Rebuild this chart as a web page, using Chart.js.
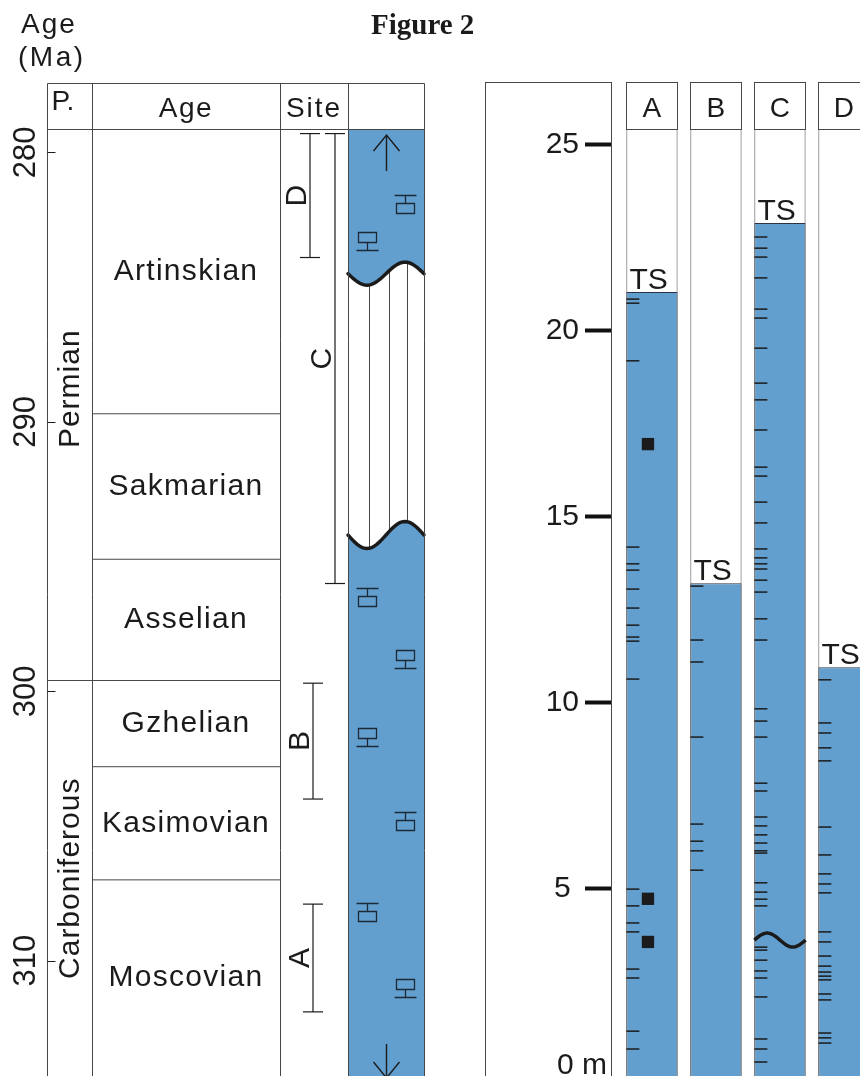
<!DOCTYPE html>
<html lang="en">
<head>
<meta charset="utf-8">
<title>Figure 2</title>
<script src="https://cdn.jsdelivr.net/npm/chart.js@4.4.1/dist/chart.umd.min.js"></script>
<style>
  html, body { margin: 0; padding: 0; background: #fff; }
  body { width: 860px; height: 1076px; overflow: hidden; position: relative; }
  canvas { position: absolute; top: 0; }
  #ageChart { left: 0; }
  #sectionChart { left: 470px; }
</style>
</head>
<body>
<canvas id="ageChart" width="490" height="1106"></canvas>
<canvas id="sectionChart" width="410" height="1106"></canvas>
<script>
// ---------- time scale (Ma) ----------
const periods = ["Permian", "Carboniferous"];
const periodBoundary = 299.6;
const stages = ["Artinskian", "Sakmarian", "Asselian", "Gzhelian", "Kasimovian", "Moscovian"];
const stageBase = [289.7, 295.1, 299.6, 302.8, 307.0]; // lower boundary of each stage
const ageTicks = [280, 290, 300, 310];
const ageTickLabels = ["280", "290", "300", "310"];
const ageRange = [279.13, 314.28];

// ---------- site ranges (Ma) ----------
const siteNames = ["A", "B", "C", "D"];
const siteTop = [307.9, 299.7, 279.3, 279.3];
const siteBase = [311.9, 304.0, 296.0, 283.9];

// ---------- lithology column ----------
const hiatusTop = 284.5;
const hiatusBase = 294.2;
const fossilAge = [281.9, 283.3, 296.5, 298.8, 301.7, 304.8, 308.2, 311.0];
const fossilSide = ["R", "L", "L", "R", "L", "R", "L", "R"];
const fossilUp = [false, true, false, true, true, false, false, true];

// ---------- measured sections (m) ----------
const sections = ["A", "B", "C", "D"];
const sectionTop = [21.04, 13.21, 22.9, 10.95]; // TS
const meterTicks = [5, 10, 15, 20, 25];
const meterTickLabels = ["5 ", "10", "15", "20", "25"];
const meterRange = [-0.046, 25.425];
const bedsA = [20.85, 20.74, 19.19, 14.18, 13.73, 13.56, 13.05, 12.54, 12.08, 11.76, 11.65, 10.63,
  4.98, 4.53, 4.07, 3.83, 2.83, 2.59, 1.16, 0.68];
const bedsB = [13.13, 11.68, 11.09, 9.07, 6.73, 6.27, 6.01, 5.49];
const bedsC = [22.52, 22.22, 21.98, 21.42, 20.58, 20.34, 19.53, 18.59, 18.14, 17.33, 16.33, 16.09,
  15.39, 14.83, 14.13, 13.89, 13.73, 13.59, 13.29, 12.97, 12.25, 11.68, 9.83, 9.50, 9.07, 7.83,
  7.62, 6.92, 6.68, 6.44, 6.22, 6.01, 5.95, 5.15, 4.90, 4.71, 4.53, 3.42, 3.34, 3.07, 2.78, 2.59,
  2.08, 0.95, 0.68, 0.33];
const bedsD = [10.61, 9.45, 9.18, 8.78, 8.43, 6.65, 5.90, 5.39, 5.12, 4.88, 3.83, 3.56, 3.18, 2.91,
  2.75, 2.64, 2.54, 2.16, 2.00, 1.11, 0.98, 0.84];
const nodulesA = [16.95, 4.72, 3.56];
const unconformityC = 3.61;

// ---------- look ----------
const FONT = '"Liberation Sans", Arial, sans-serif';
const INK = "#1b1b1b";
const RULE = "#474747";
const BLUE = "#629fcf";
Chart.defaults.font.family = FONT;

// left table, x in px from the table's left edge
const TAB = { width: 377, pCol: [0, 45], ageCol: [45, 233], siteCol: [233, 301], lithCol: [301, 377], headTop: 83 };
const SITE_X = { A: 266, B: 266, C: 288, D: 263 };
// right panel
const SEC = { boxLeft: 15, headTop: 82, axisWidth: 141, pitch: 64 };
const X_MIN = -0.64, X_MAX = X_MIN + (410 - SEC.axisWidth) / SEC.pitch;
const BED_DX = -0.4 + 6.5 / SEC.pitch;
const NODULE_DX = -4 / SEC.pitch;

function text(ctx, s, x, y, size, opt = {}) {
  ctx.save();
  ctx.font = (opt.weight ? opt.weight + " " : "") + size + "px " + (opt.family || FONT);
  ctx.fillStyle = opt.color || INK;
  ctx.textAlign = opt.align || "left";
  ctx.textBaseline = opt.baseline || "alphabetic";
  if ("letterSpacing" in ctx) ctx.letterSpacing = (opt.spacing || 0) + "px";
  ctx.translate(x, y);
  if (opt.rotate) ctx.rotate(opt.rotate);
  ctx.fillText(s, 0, 0);
  ctx.restore();
}

// ---------- left panel: age table ----------
const agePanel = {
  id: "agePanel",
  beforeDatasetsDraw(chart) {
    const { ctx, chartArea: a, scales: { x, y } } = chart;
    const x0 = x.getPixelForValue(TAB.lithCol[0]), x1 = x.getPixelForValue(TAB.lithCol[1]), w = x1 - x0;
    const wave = (yc, amp) => Array.from({ length: 41 }, (_, i) => [x0 + w * i / 40, yc + amp * Math.sin(2 * Math.PI * i / 40)]);
    const w1 = wave(y.getPixelForValue(hiatusTop), 11.5);
    const w2 = wave(y.getPixelForValue(hiatusBase), 13.5);
    ctx.save();
    // hiatus hatching
    ctx.strokeStyle = RULE; ctx.lineWidth = 1;
    [0.28, 0.54, 0.78].forEach(f => {
      const xx = Math.round(x0 + f * w) + 0.5;
      ctx.beginPath(); ctx.moveTo(xx, w1[0][1] - 20); ctx.lineTo(xx, w2[0][1] + 20); ctx.stroke();
    });
    // carbonate above and below
    ctx.fillStyle = BLUE;
    ctx.beginPath(); ctx.moveTo(x0, a.top); ctx.lineTo(x1, a.top);
    w1.slice().reverse().forEach(p => ctx.lineTo(p[0], p[1]));
    ctx.closePath(); ctx.fill();
    ctx.beginPath();
    w2.forEach((p, i) => i ? ctx.lineTo(p[0], p[1]) : ctx.moveTo(p[0], p[1]));
    ctx.lineTo(x1, a.bottom + 30); ctx.lineTo(x0, a.bottom + 30); ctx.closePath(); ctx.fill();
    // unconformities
    ctx.strokeStyle = INK; ctx.lineWidth = 3.5; ctx.lineJoin = "round"; ctx.lineCap = "round";
    [w1, w2].forEach(pts => {
      ctx.beginPath();
      pts.forEach((p, i) => i ? ctx.lineTo(p[0], p[1]) : ctx.moveTo(p[0], p[1]));
      ctx.stroke();
    });
    // fossil symbols
    ctx.strokeStyle = "#1d2a36"; ctx.lineWidth = 1.3; ctx.lineCap = "butt"; ctx.lineJoin = "miter";
    fossilAge.forEach((age, i) => {
      const cx = Math.round(x0 + (fossilSide[i] === "L" ? 0.25 : 0.75) * w) + 0.5;
      const cy = Math.round(y.getPixelForValue(age)) + 0.5;
      const s = fossilUp[i] ? -1 : 1;
      ctx.beginPath();
      ctx.moveTo(cx - 11, cy - 9 * s); ctx.lineTo(cx + 11, cy - 9 * s);
      ctx.moveTo(cx, cy - 9 * s); ctx.lineTo(cx, cy - s);
      ctx.rect(cx - 9, fossilUp[i] ? cy - 9 : cy - 1, 18, 10);
      ctx.stroke();
    });
    // arrows
    const ax = Math.round(x0 + 0.5 * w) + 0.5;
    ctx.strokeStyle = INK; ctx.lineWidth = 1.4;
    ctx.beginPath();
    ctx.moveTo(ax, a.top + 6); ctx.lineTo(ax, a.top + 42);
    ctx.moveTo(ax - 13, a.top + 22); ctx.lineTo(ax, a.top + 6); ctx.lineTo(ax + 13, a.top + 22);
    ctx.moveTo(ax, a.bottom - 32); ctx.lineTo(ax, a.bottom + 2);
    ctx.moveTo(ax - 13, a.bottom - 14); ctx.lineTo(ax, a.bottom + 2); ctx.lineTo(ax + 13, a.bottom - 14);
    ctx.stroke();
    ctx.restore();
  },
  afterDraw(chart) {
    const { ctx, chartArea: a, scales: { x, y } } = chart;
    const px = v => Math.round(x.getPixelForValue(v)) + 0.5;
    const L = px(0), R = px(TAB.width), top = TAB.headTop + 0.5;
    ctx.save();
    ctx.strokeStyle = RULE; ctx.lineWidth = 1;
    ctx.beginPath();
    [0, TAB.pCol[1], TAB.ageCol[1], TAB.siteCol[1], TAB.width].forEach(v => { ctx.moveTo(px(v), top); ctx.lineTo(px(v), chart.height); });
    ctx.moveTo(L, top); ctx.lineTo(R, top);
    ctx.moveTo(L, a.top + 0.5); ctx.lineTo(R, a.top + 0.5);
    ctx.stroke();
    ctx.strokeStyle = INK;
    ctx.beginPath();
    ageTicks.forEach(t => { const yy = Math.round(y.getPixelForValue(t)) + 0.5; ctx.moveTo(L, yy); ctx.lineTo(L + 8, yy); });
    ctx.stroke();
    ctx.restore();

    const up = -Math.PI / 2;
    ageTicks.forEach((t, i) => text(ctx, ageTickLabels[i], 35, y.getPixelForValue(t), 31, { align: "center", rotate: up }));
    text(ctx, "Age", 21, 33, 28, { spacing: 2 });
    text(ctx, "(Ma)", 18, 66, 28, { spacing: 2.5 });
    text(ctx, "Figure 2", 371, 34, 29, { family: '"Liberation Serif", "Times New Roman", serif', weight: "bold" });

    const ageMid = (x.getPixelForValue(TAB.ageCol[0]) + x.getPixelForValue(TAB.ageCol[1])) / 2;
    const siteMid = (x.getPixelForValue(TAB.siteCol[0]) + x.getPixelForValue(TAB.siteCol[1])) / 2;
    text(ctx, "P.", L + 4, 110, 28);
    text(ctx, "Age", ageMid, 117, 28, { align: "center", spacing: 1.5 });
    text(ctx, "Site", siteMid, 117, 28, { align: "center", spacing: 2 });

    const sb = [a.top, ...stageBase.map(v => y.getPixelForValue(v)), a.bottom];
    stages.forEach((s, i) => text(ctx, s, ageMid, (sb[i] + sb[i + 1]) / 2, 30, { align: "center", baseline: "middle", spacing: 1.3 }));

    const pb = [a.top, y.getPixelForValue(periodBoundary), a.bottom];
    const shift = [-16, 0];
    periods.forEach((p, i) => text(ctx, p, 79, (pb[i] + pb[i + 1]) / 2 + shift[i], 30, { align: "center", rotate: up, spacing: 1 }));

    siteNames.forEach((s, i) => {
      const yy = (y.getPixelForValue(siteTop[i]) + y.getPixelForValue(siteBase[i])) / 2;
      text(ctx, s, x.getPixelForValue(SITE_X[s]) - 4, yy, 30, { align: "center", rotate: up });
    });
  }
};

const boundaryPts = [];
stageBase.forEach(v => boundaryPts.push({ x: TAB.ageCol[0], y: v }, { x: TAB.ageCol[1], y: v }, { x: TAB.ageCol[1], y: null }));
boundaryPts.push({ x: TAB.pCol[0], y: periodBoundary }, { x: TAB.pCol[1], y: periodBoundary });

const siteSets = siteNames.map((s, i) => ({
  label: "Site " + s,
  data: [{ x: SITE_X[s], y: siteTop[i] }, { x: SITE_X[s], y: siteBase[i] }],
  borderColor: INK, borderWidth: 1.2,
  pointStyle: "line", pointRadius: 10, pointBorderWidth: 1.2, pointBorderColor: INK,
  clip: false
}));

new Chart(document.getElementById("ageChart"), {
  type: "line",
  data: {
    datasets: [
      { label: "boundaries", data: boundaryPts, borderColor: RULE, borderWidth: 1, pointRadius: 0, spanGaps: false },
      ...siteSets
    ]
  },
  options: {
    responsive: false, animation: false, events: [],
    layout: { autoPadding: false, padding: { left: 47, top: 129, right: 490 - 424, bottom: 30 } },
    scales: {
      x: { type: "linear", display: false, min: 0, max: TAB.width, ticks: { display: false } },
      y: { type: "linear", display: false, reverse: true, min: ageRange[0], max: ageRange[1], ticks: { display: false } }
    },
    plugins: { legend: { display: false }, tooltip: { enabled: false } }
  },
  plugins: [agePanel]
});

// ---------- right panel: measured sections ----------
const sectionPanel = {
  id: "sectionPanel",
  beforeDatasetsDraw(chart) {
    const { ctx, chartArea: a } = chart;
    ctx.save();
    ctx.strokeStyle = RULE; ctx.lineWidth = 1;
    ctx.strokeRect(SEC.boxLeft + 0.5, SEC.headTop + 0.5, a.left - SEC.boxLeft, chart.height);
    ctx.restore();
  },
  afterDatasetsDraw(chart) {
    const { ctx, chartArea: a, scales: { y } } = chart;
    const bars = chart.getDatasetMeta(0).data;
    ctx.save();
    ctx.strokeStyle = RULE; ctx.lineWidth = 1;
    bars.forEach((b, i) => {
      const l = Math.round(b.x - b.width / 2) + 0.5, r = Math.round(b.x + b.width / 2) - 0.5;
      ctx.strokeRect(l, SEC.headTop + 0.5, r - l, a.top - SEC.headTop);
      text(ctx, sections[i], b.x, 117, 28, { align: "center" });
      text(ctx, "TS", l + 3, y.getPixelForValue(sectionTop[i]) - 3, 30);
    });
    const c = bars[2], yc = y.getPixelForValue(unconformityC);
    ctx.strokeStyle = INK; ctx.lineWidth = 3.5; ctx.lineJoin = "round";
    ctx.beginPath();
    for (let k = 0; k <= 30; k++) {
      const t = k / 30;
      const xx = c.x - c.width / 2 + t * c.width, yy = yc - 7 * Math.sin(2 * Math.PI * t);
      k ? ctx.lineTo(xx, yy) : ctx.moveTo(xx, yy);
    }
    ctx.stroke();
    ctx.restore();
    text(ctx, "0 m", a.left - 4, y.getPixelForValue(0), 30, { align: "right" });
  }
};

const bedSets = [bedsA, bedsB, bedsC, bedsD].map((arr, i) => ({
  type: "scatter",
  label: "beds " + sections[i],
  data: arr.map(v => ({ x: i + BED_DX, y: v })),
  pointStyle: "line", pointRadius: 6.5, pointBorderWidth: 1.5, borderColor: INK,
  order: 1
}));

new Chart(document.getElementById("sectionChart"), {
  type: "bar",
  data: {
    datasets: [
      { label: "column", data: sections.map((s, i) => ({ x: i, y: meterRange })),
        backgroundColor: "#fff", borderColor: RULE, borderWidth: { left: 1, right: 1, top: 1, bottom: 0 }, borderSkipped: false,
        barPercentage: 0.8, categoryPercentage: 1, order: 3 },
      { label: "carbonate", data: sections.map((s, i) => ({ x: i, y: [meterRange[0], sectionTop[i]] })),
        backgroundColor: BLUE, borderColor: "#2b3440", borderWidth: 1, borderSkipped: "start",
        barPercentage: 0.8, categoryPercentage: 1, order: 2 },
      ...bedSets,
      { type: "scatter", label: "nodules", data: nodulesA.map(v => ({ x: 0 + NODULE_DX, y: v })),
        pointStyle: "rect", pointRadius: 8.7, backgroundColor: INK, borderColor: INK, pointBorderWidth: 0, order: 1 }
    ]
  },
  options: {
    responsive: false, animation: false, events: [],
    layout: { autoPadding: false, padding: { left: 0, right: 0, top: 129, bottom: 30 } },
    scales: {
      x: {
        type: "linear", display: false, stacked: true, offset: false, min: X_MIN, max: X_MAX,
        ticks: { display: false },
        afterBuildTicks: s => { s.ticks = sections.map((_, i) => ({ value: i })); }
      },
      y: {
        type: "linear", position: "left", min: meterRange[0], max: meterRange[1],
        afterBuildTicks: s => { s.ticks = meterTicks.map(v => ({ value: v })); },
        afterFit: s => { s.width = SEC.axisWidth; },
        border: { display: false },
        grid: { drawOnChartArea: false, drawTicks: true, tickLength: 26, tickWidth: 4, tickColor: "#111" },
        ticks: { callback: (v, i) => meterTickLabels[i], font: { size: 30, family: FONT }, color: INK, padding: 6 }
      }
    },
    plugins: { legend: { display: false }, tooltip: { enabled: false } }
  },
  plugins: [sectionPanel]
});
</script>
</body>
</html>
